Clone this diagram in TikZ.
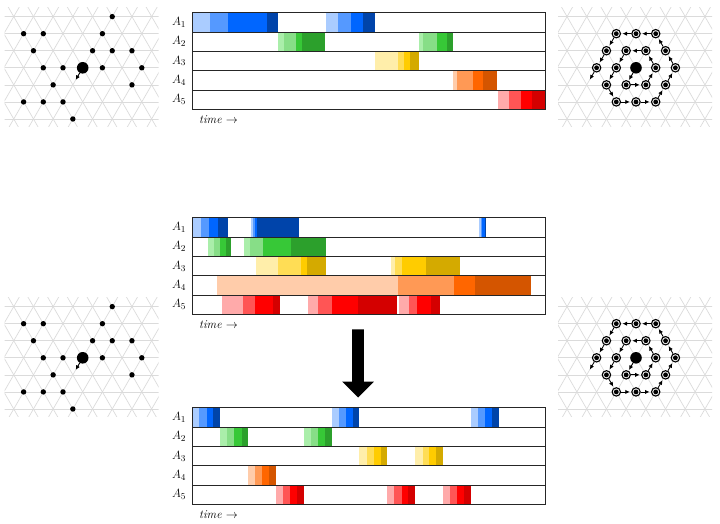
\documentclass[tikz,border=0pt]{standalone}
\usetikzlibrary{arrows.meta}
\definecolor{bA}{HTML}{AACCFF}\definecolor{bB}{HTML}{5599FF}\definecolor{bC}{HTML}{0066FF}\definecolor{bD}{HTML}{0044AA}
\definecolor{gA}{HTML}{AAEEAA}\definecolor{gB}{HTML}{87DE87}\definecolor{gC}{HTML}{37C837}\definecolor{gD}{HTML}{2CA02C}
\definecolor{yA}{HTML}{FFEEAA}\definecolor{yB}{HTML}{FFDD55}\definecolor{yC}{HTML}{FFCC00}\definecolor{yD}{HTML}{D4AA00}
\definecolor{oA}{HTML}{FFCCAA}\definecolor{oB}{HTML}{FF9955}\definecolor{oC}{HTML}{FF6600}\definecolor{oD}{HTML}{D45500}
\definecolor{rA}{HTML}{FFAAAA}\definecolor{rB}{HTML}{FF5555}\definecolor{rC}{HTML}{FF0000}\definecolor{rD}{HTML}{D40000}
\tikzset{
  rowbox/.style={draw=black!85, line width=0.9pt},
  lbl/.style={font=\fontsize{12.5}{14}\selectfont, inner sep=0pt},
  timelbl/.style={font=\fontsize{12}{14}\selectfont\itshape, anchor=west, inner sep=0pt},
  gridline/.style={draw=black!14, line width=0.7pt},
  sdot/.style={circle, fill=black, inner sep=0pt, minimum size=5.4pt},
  bdot/.style={circle, fill=black, inner sep=0pt, minimum size=11.6pt},
  rdot/.style={circle, draw=black, line width=1.1pt, inner sep=0pt, minimum size=8.4pt,
    path picture={\fill[black] (path picture bounding box.center) circle (2.4pt);}},
  arr/.style={-{Latex[length=4.5pt,width=4.3pt]}, line width=0.9pt},
  bigarrow/.style={fill=black},
}
\newcommand\segs[3]{\foreach \xa/\xb/\xc in {#3} {\fill[\xc] (\xa,{#1+(#2-1)*19.32}) rectangle (\xb,{#1+#2*19.32});}}
\newcommand\timeline[2]{%
  \foreach \i in {1,...,5} {
    \draw[rowbox] (192.3,{#1+(\i-1)*19.32}) rectangle (545,{#1+\i*19.32});
    \node[lbl] (#2A\i) at (179,{#1+(\i-0.5)*19.32}) {$A_{\i}$};
  }
  \node[timelbl] (#2time) at (199,{#1+107}) {time $\rightarrow$};
}
\newcommand\lattgrid[2]{%
  \begin{scope}
    \clip ({#1-78},{#2-60}) rectangle ({#1+76},{#2+59});
    \foreach \k in {-3,...,3} \draw[gridline] ({#1-80},{#2+\k*17.06}) -- ({#1+80},{#2+\k*17.06});
    \foreach \n in {-9,...,9} {
      \draw[gridline] ({#1+\n*19.7-40},{#2+69.28}) -- ({#1+\n*19.7+40},{#2-69.28});
      \draw[gridline] ({#1+\n*19.7+40},{#2+69.28}) -- ({#1+\n*19.7-40},{#2-69.28});
    }
  \end{scope}}
\newcommand\leftlatt[3]{% cx, cy, name
  \lattgrid{#1}{#2}
  \begin{scope}[shift={(#1,#2)}]
    \foreach \u/\v [count=\m] in {1.5/3,-3/2,-2/2,1/2,-2.5/1,0.5/1,1.5/1,2.5/1,-2/0,-1/0,1/0,3/0,-1.5/-1,2.5/-1,-3/-2,-2/-2,-1/-2,-0.5/-3}
      \node[sdot] (#3d\m) at ({\u*19.7},{-\v*17.06}) {};
    \node[bdot] (#3c) at (0,0) {};
    \draw[arr] (#3c) -- ++(120:14);
  \end{scope}}
\newcommand\rightlatt[3]{% cx, cy, name
  \lattgrid{#1}{#2}
  \begin{scope}[shift={(#1,#2)}]
    \foreach \u/\v/\t [count=\m] in {0/2/180,1/2/180,-1/2/240,-1.5/1/240,-2/0/240,-1.5/-1/300,-1/-2/0,0/-2/0,1/-2/60,1.5/-1/60,2/0/120,1.5/1/120,-0.5/1/240,0.5/1/180,1/0/120,0.5/-1/60,-0.5/-1/0,-1/0/240} {
      \node[rdot] (#3r\m) at ({\u*19.7},{-\v*17.06}) {};
      \draw[arr, line width=0.8pt] (#3r\m) -- ++(-\t:13.5);
    }
    \node[bdot] (#3c) at (0,0) {};
    \draw[arr] (#3c) -- ++(120:14);
  \end{scope}}
\begin{document}
\begin{tikzpicture}[x=1pt,y=-1pt]
\useasboundingbox (0,0) rectangle (720,524);
% ---------- top timeline ----------
\segs{12.7}{1}{192.3/210/bA,210/227.7/bB,227.7/266.7/bC,266.7/277.7/bD,325.7/338.3/bA,338.3/350.7/bB,350.7/362.7/bC,362.7/375/bD}
\segs{12.7}{2}{278.3/284/gA,284/296/gB,296/301.7/gC,301.7/324.7/gD,419/422.7/gA,422.7/437.3/gB,437.3/447.3/gC,447.3/453.3/gD}
\segs{12.7}{3}{375.3/398.3/yA,398.3/404/yB,404/410/yC,410/419/yD}
\segs{12.7}{4}{453.3/456.7/oA,456.7/472.7/oB,472.7/483.3/oC,483.3/497.3/oD}
\segs{12.7}{5}{497.7/509.3/rA,509.3/520.7/rB,520.7/531.7/rC,531.7/545/rD}
\timeline{12.7}{t}
% ---------- middle timeline ----------
\segs{217.7}{1}{192.3/200.7/bA,200.7/209/bB,209/218.3/bC,218.3/227.7/bD,251.3/253/bA,253/254.7/bB,254.7/256.7/bC,256.7/299/bD,479.3/480.7/bA,480.7/482/bB,482/484.7/bC,484.7/486/bD}
\segs{217.7}{2}{208.3/214/gA,214/220/gB,220/226/gC,226/230.7/gD,244/250/gA,250/262.7/gB,262.7/291/gC,291/326/gD}
\segs{217.7}{3}{255.7/277.7/yA,277.7/300.7/yB,300.7/307.3/yC,307.3/326/yD,391/395/yA,395/401.7/yB,401.7/426/yC,426/460/yD}
\segs{217.7}{4}{217.3/398.3/oA,398.3/454/oB,454/475/oC,475/530.7/oD}
\segs{217.7}{5}{222.3/243.3/rA,243.3/255/rB,255/273.3/rC,273.3/280/rD,307.7/318.3/rA,318.3/331.7/rB,331.7/358.3/rC,358.3/396.7/rD,399.3/409.3/rA,409.3/416.7/rB,416.7/430.7/rC,430.7/440/rD}
\timeline{217.7}{m}
% ---------- bottom timeline ----------
\segs{407.7}{1}{192.3/199.3/bA,199.3/206.7/bB,206.7/213.3/bC,213.3/220/bD,332/339/bA,339/345.7/bB,345.7/353.3/bC,353.3/359.3/bD,471/478.3/bA,478.3/485/bB,485/491.7/bC,491.7/499/bD}
\segs{407.7}{2}{220/226.7/gA,226.7/234/gB,234/241.7/gC,241.7/247.7/gD,304/310.7/gA,310.7/317.7/gB,317.7/325/gC,325/331.7/gD}
\segs{407.7}{3}{359.3/366.7/yA,366.7/374/yB,374/380.7/yC,380.7/387.3/yD,415.3/422.7/yA,422.7/429.3/yB,429.3/436/yC,436/443.3/yD}
\segs{407.7}{4}{248/255/oA,255/261.7/oB,261.7/269/oC,269/276/oD}
\segs{407.7}{5}{276/282.7/rA,282.7/290/rB,290/297.3/rC,297.3/304/rD,387.3/394.3/rA,394.3/401.7/rB,401.7/408.3/rC,408.3/415.3/rD,443.3/450/rA,450/457.3/rB,457.3/464/rC,464/471/rD}
\timeline{407.7}{b}
% ---------- big arrow ----------
\fill[bigarrow] (352.2,329.3) -- (363.8,329.3) -- (363.8,381.7) -- (373.8,381.7) -- (358,397.5) -- (342.2,381.7) -- (352.2,381.7) -- cycle;
% ---------- lattices ----------
\leftlatt{82.7}{67.8}{tl}
\rightlatt{636}{67.8}{tr}
\leftlatt{82.7}{357.8}{bl}
\rightlatt{636}{357.8}{br}
\end{tikzpicture}
\end{document}
